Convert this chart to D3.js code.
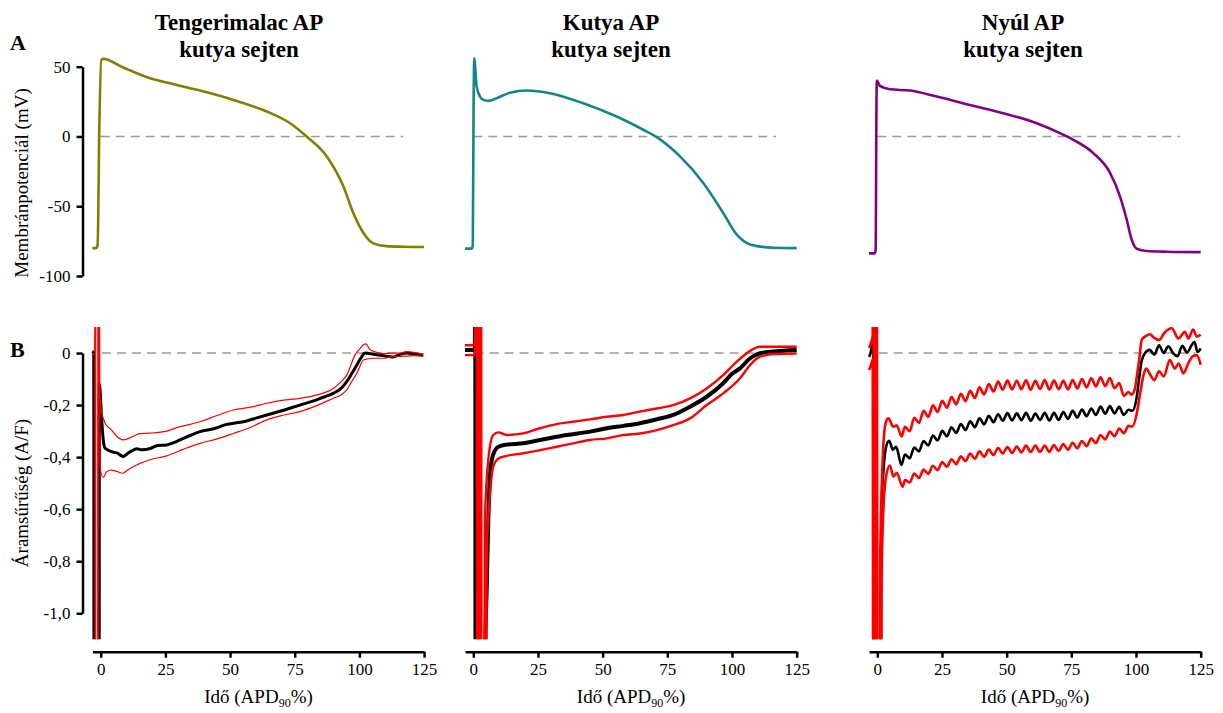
<!DOCTYPE html>
<html>
<head>
<meta charset="utf-8">
<script src="https://cdn.jsdelivr.net/npm/d3@7"></script>
<style>
  body { margin: 0; background: #fff; }
  svg text { font-family: "Liberation Serif", "Times New Roman", Times, "Tinos", "DejaVu Serif", "Noto Serif", serif; }
</style>
</head>
<body>
<div id="chart"></div>
<script>
// ---- data ----
var titles1 = ["Tengerimalac AP", "Kutya AP", "Nyúl AP"];
var titles2 = ["kutya sejten", "kutya sejten", "kutya sejten"];
var xTicks = [0, 25, 50, 75, 100, 125];
var yTicksA = [50, 0, -50, -100];
var yTicksB = [0, -0.2, -0.4, -0.6, -0.8, -1.0];

// A row: action potentials [time (APD90 %), mV]
var apGuineaPig = [[-3.2,-80],[-1.8,-80],[-1.2,-78],[-0.5,10],[0.2,55],[1.2,55.6],[3.6,54.3],[7,51],[12.6,46.4],[18,42.5],[25.5,38.6],[38.4,32.9],[51.3,26.2],[64.2,17.9],[73.2,9.5],[79.6,0],[87.4,-14.3],[93.8,-35.7],[97.6,-54.7],[101.5,-69],[105.4,-76.6],[110.5,-78.6],[117,-79],[125,-79.2]];
var apDog = [[-3.2,-80.4],[-0.6,-80.4],[-0.2,-78],[0.1,20],[0.4,56],[0.8,48],[1.3,35.7],[2.6,28.6],[4,26.2],[5.8,25.5],[9,27.4],[14.2,31.4],[20.6,32.9],[29.6,31],[42.5,23.8],[55.4,14.3],[65.7,4.8],[70.9,-0.5],[79.9,-14.3],[88.9,-33.3],[96.6,-54.8],[101.8,-70.2],[107,-77.4],[116,-79.8],[125,-80]];
var apRabbit = [[-3.2,-83.8],[-0.9,-83.8],[-0.6,-80],[-0.4,0],[-0.2,40],[1,36.2],[4.9,33.8],[12.6,32.9],[23,28.6],[35.8,22.6],[48.7,16.7],[61.6,9.5],[70.6,2.4],[75.8,-2.4],[83.5,-11.9],[90,-26.2],[93.8,-42.9],[96.4,-59.5],[98.3,-73.8],[100.3,-80.5],[104.1,-82.1],[112,-82.6],[125,-82.9]];

// B row: current density mean, mean+SEM, mean-SEM [time, A/F]
var gpMean = [[-3.2,0],[-2.7,0.005],[-2.5,-3],[-0.7,-3],[-0.5,-0.12],[0.4,-0.26],[1.0,-0.335],[1.7,-0.366],[4.2,-0.379],[6.5,-0.385],[8.7,-0.398],[10.5,-0.385],[12.6,-0.373],[14,-0.368],[16,-0.372],[19.1,-0.367],[22,-0.355],[25.5,-0.353],[28,-0.345],[31.9,-0.328],[35,-0.315],[38.4,-0.302],[44,-0.29],[48,-0.276],[51.3,-0.27],[56,-0.262],[60,-0.25],[64.2,-0.238],[70,-0.222],[77,-0.2],[82,-0.185],[86,-0.17],[89.9,-0.155],[93,-0.135],[95.1,-0.11],[97,-0.08],[99,-0.046],[100.5,-0.02],[102.2,0],[105.4,-0.005],[109.2,-0.01],[113.1,-0.015],[115.7,-0.005],[118.3,0],[121,-0.003],[124.7,-0.008]];
var gpUpper = [[-3.2,0.005],[-2.4,0.01],[-1.95,0.5],[-1.9,-3],[-1.0,-3],[-0.95,0.5],[-0.6,0.5],[-0.45,-0.12],[0.4,-0.232],[1.0,-0.25],[1.7,-0.27],[4.2,-0.296],[6.2,-0.32],[8.7,-0.334],[12.6,-0.32],[15,-0.31],[19.1,-0.308],[25.5,-0.3],[30,-0.285],[38.4,-0.264],[45,-0.24],[51.3,-0.219],[58,-0.208],[64.2,-0.193],[70,-0.182],[77,-0.174],[84,-0.16],[89.9,-0.136],[93,-0.11],[95.1,-0.085],[98.3,-0.008],[100.5,0.02],[101.5,0.031],[102.5,0.035],[104.1,0.013],[106,0.005],[109.2,-0.002],[113.1,0],[115.7,0],[118.3,0.005],[121,0.003],[124.7,-0.006]];
var gpLower = [[-3.2,-0.005],[-2.2,-0.005],[-2.1,-3],[-1.2,-3],[-1.1,0.5],[-0.5,0.5],[-0.3,-0.437],[1.0,-0.478],[2.3,-0.456],[4.2,-0.45],[6.2,-0.455],[8.7,-0.462],[10,-0.452],[12.6,-0.437],[15,-0.425],[19.1,-0.41],[25.5,-0.395],[31.9,-0.37],[38.4,-0.347],[45,-0.33],[51.3,-0.309],[58,-0.285],[64.2,-0.257],[70,-0.24],[77,-0.225],[84,-0.2],[89.9,-0.174],[93,-0.16],[95.1,-0.142],[97,-0.11],[99,-0.078],[100.5,-0.045],[101.5,-0.027],[105.4,-0.02],[109.2,-0.02],[113.1,-0.013],[118.3,-0.012],[121,-0.01],[124.7,-0.013]];

var dogMean = [[-3.2,0.012],[0.6,0.012],[0.75,0.5],[0.9,-3],[1.2,0.5],[1.4,-3],[4.1,-3],[4.5,-1.2],[5.2,-0.9],[5.8,-0.64],[6.5,-0.46],[7.7,-0.39],[9.7,-0.36],[12.9,-0.352],[19.3,-0.347],[25.8,-0.334],[32.2,-0.322],[36.1,-0.315],[45.1,-0.302],[51.6,-0.289],[58,-0.28],[64.4,-0.27],[70.9,-0.255],[77.3,-0.238],[83.8,-0.206],[90.2,-0.168],[96.6,-0.116],[100,-0.08],[103.1,-0.059],[107,-0.02],[110.8,-0.001],[116,0.006],[125,0.012]];
var dogUpper = [[-3.2,0.03],[0.6,0.03],[1.3,0.5],[1.6,-3],[2.2,0.5],[2.6,-3],[3.9,-3],[4.5,-0.64],[5.8,-0.41],[7.7,-0.315],[9.7,-0.305],[12.9,-0.315],[19.3,-0.309],[25.8,-0.289],[32.2,-0.273],[38.6,-0.264],[45.1,-0.255],[51.6,-0.245],[58,-0.238],[64.4,-0.225],[70.9,-0.213],[77.3,-0.2],[83.8,-0.174],[90.2,-0.136],[96.6,-0.085],[100.5,-0.046],[105.7,-0.001],[110.8,0.024],[116,0.024],[125,0.024]];
var dogLower = [[-3.2,-0.008],[0.6,-0.008],[2.0,0.5],[2.4,-3],[3.0,0.5],[3.3,-3],[4.4,-3],[5.2,-0.77],[6.5,-0.54],[7.7,-0.437],[9.7,-0.405],[12.9,-0.395],[19.3,-0.385],[25.8,-0.373],[32.2,-0.36],[38.6,-0.347],[45.1,-0.334],[51.6,-0.328],[58,-0.315],[64.4,-0.309],[70.9,-0.296],[77.3,-0.277],[83.8,-0.251],[90.2,-0.2],[96.6,-0.155],[103.1,-0.097],[107,-0.046],[110.8,-0.014],[116,-0.004],[125,-0.002]];

var rbMean = [[-3.2,-0.015],[-2.6,0],[-2.0,0.03],[-1.6,0.037],[-1.2,-3],[0.9,-3],[1.6,-0.6],[2.4,-0.45],[3.4,-0.36],[4.6,-0.337],[6.0,-0.372],[7.3,-0.36],[9.3,-0.43],
  [10.7,-0.39],[12.5,-0.404],[14.3,-0.363],[16.1,-0.378],[17.9,-0.338],[19.7,-0.355],[21.5,-0.317],[23.3,-0.336],[25.1,-0.299],[26.9,-0.32],[28.7,-0.285],[30.5,-0.307],[32.3,-0.273],[34.1,-0.296],[35.9,-0.262],[37.7,-0.285],[39.5,-0.251],[41.3,-0.274],[43.1,-0.241],[44.9,-0.266],[46.7,-0.235],[48.5,-0.26],[50.3,-0.231],[52.1,-0.259],[53.9,-0.232],[55.7,-0.258],[57.5,-0.23],[59.3,-0.26],[61.1,-0.233],[62.9,-0.257],[64.7,-0.23],[66.5,-0.259],[68.3,-0.23],[70.1,-0.257],[71.9,-0.227],[73.7,-0.253],[75.5,-0.222],[77.3,-0.248],[79.1,-0.217],[80.9,-0.243],[82.7,-0.213],[84.5,-0.238],[86.3,-0.206],[88.1,-0.233],[89.9,-0.204],[91.7,-0.232],[93.5,-0.207],[95.3,-0.238],[97.1,-0.218],
  [98.6,-0.222],[100.3,-0.168],[101.3,-0.09],[102.2,-0.03],[103.5,0],[105.3,0.012],[107.1,-0.006],[108.9,0.03],[110.7,0],[112.5,0.026],[114.3,0],[116.1,-0.012],[117.9,0.028],[119.7,0.002],[121.5,0.03],[122.6,0.043],[123.8,0.004],[125,0.018]];
var rbUpper = [[-3.2,0.02],[-2.4,0.04],[-1.8,0.065],[-1.5,0.5],[-1.1,-3],[-0.7,0.5],[-0.3,-3],[0.4,-3],[1.0,-0.9],[1.6,-0.55],[2.3,-0.36],[3.2,-0.27],[4.3,-0.251],[6.2,-0.283],[7.5,-0.278],[9.4,-0.321],
  [10.7,-0.283],[12.5,-0.3],[14.3,-0.249],[16.1,-0.269],[17.9,-0.222],[19.7,-0.245],[21.5,-0.201],[23.3,-0.226],[25.1,-0.184],[26.9,-0.21],[28.7,-0.169],[30.5,-0.197],[32.3,-0.157],[34.1,-0.185],[35.9,-0.145],[37.7,-0.173],[39.5,-0.132],[41.3,-0.159],[43.1,-0.119],[44.9,-0.148],[46.7,-0.11],[48.5,-0.141],[50.3,-0.106],[52.1,-0.14],[53.9,-0.107],[55.7,-0.139],[57.5,-0.105],[59.3,-0.141],[61.1,-0.107],[62.9,-0.138],[64.7,-0.104],[66.5,-0.14],[68.3,-0.106],[70.1,-0.139],[71.9,-0.107],[73.7,-0.14],[75.5,-0.104],[77.3,-0.136],[79.1,-0.1],[80.9,-0.132],[82.7,-0.097],[84.5,-0.128],[86.3,-0.093],[88.1,-0.127],[89.9,-0.096],[91.7,-0.135],[93.5,-0.115],[95.3,-0.165],[97.1,-0.15],
  [98.3,-0.16],[99.5,-0.14],[100.3,-0.091],[101.3,-0.02],[102.2,0.05],[103.5,0.063],[105.3,0.072],[107.1,0.058],[108.9,0.05],[111,0.078],[113.8,0.095],[116.4,0.056],[118.9,0.082],[120.2,0.056],[122.1,0.09],[123.5,0.063],[125,0.07]];
var rbLower = [[-3.2,-0.065],[-2.4,-0.045],[-1.8,-0.025],[-1.4,-3],[-1.0,0.5],[-0.6,-3],[-0.2,0.5],[0.2,-3],[1.2,-3],[1.6,-0.9],[2.4,-0.59],[3.6,-0.462],[4.9,-0.432],[6.2,-0.475],[7.5,-0.46],[9.8,-0.514],
  [10.7,-0.488],[12.5,-0.497],[14.3,-0.463],[16.1,-0.48],[17.9,-0.448],[19.7,-0.464],[21.5,-0.433],[23.3,-0.45],[25.1,-0.419],[26.9,-0.437],[28.7,-0.408],[30.5,-0.427],[32.3,-0.397],[34.1,-0.415],[35.9,-0.386],[37.7,-0.406],[39.5,-0.378],[41.3,-0.399],[43.1,-0.371],[44.9,-0.392],[46.7,-0.365],[48.5,-0.386],[50.3,-0.361],[52.1,-0.384],[53.9,-0.359],[55.7,-0.382],[57.5,-0.356],[59.3,-0.38],[61.1,-0.356],[62.9,-0.38],[64.7,-0.356],[66.5,-0.38],[68.3,-0.354],[70.1,-0.376],[71.9,-0.35],[73.7,-0.372],[75.5,-0.345],[77.3,-0.366],[79.1,-0.338],[80.9,-0.358],[82.7,-0.328],[84.5,-0.346],[86.3,-0.315],[88.1,-0.332],[89.9,-0.302],[91.7,-0.32],[93.5,-0.29],[95.3,-0.308],[97.1,-0.28],
  [98.5,-0.283],[100.3,-0.232],[101.6,-0.155],[102.9,-0.085],[104,-0.06],[105.3,-0.08],[107.1,-0.104],[108.9,-0.07],[110.7,-0.09],[113.1,-0.027],[115,-0.06],[116.5,-0.04],[118.3,-0.078],[120.2,-0.04],[122.1,-0.011],[123.5,-0.008],[125,-0.045]];

var apData = [apGuineaPig, apDog, apRabbit];
var apColors = ["#808000", "#168585", "#800080"];
var curData = [[gpMean, gpUpper, gpLower], [dogMean, dogUpper, dogLower], [rbMean, rbUpper, rbLower]];

// ---- layout ----
var svgWidth = 1223;
var svgHeight = 713;
var serif = "'Liberation Serif', 'Times New Roman', Times, Tinos, 'DejaVu Serif', 'Noto Serif', serif";
var zeroX = [100.7, 473.3, 877.3];   // pixel of t = 0 in each column
var pxPerUnit = 2.587;
var axisX = 82.5;
var redWidth = [1.2, 2.4, 2.6];
var blackWidth = [3, 4, 2.6];

var svg = d3.select("#chart")
    .append("svg")
    .attr("width", svgWidth)
    .attr("height", svgHeight)
    .attr("font-family", serif);

var yA = d3.scaleLinear().domain([50, -100]).range([66.7, 276]);
var yB = d3.scaleLinear().domain([0.1, -1.1]).range([327, 639.3]);
var yBaxis = yB.copy().domain([0, -1]).range([yB(0), yB(-1)]);

var huLocale = d3.formatLocale({decimal: ",", thousands: " ", grouping: [3], currency: ["", ""], minus: "-"});
var commaFmt = huLocale.format(".1f");
var intFmt = huLocale.format("d");

svg.append("defs").append("clipPath")
    .attr("id", "clipB")
    .append("rect")
    .attr("x", 0).attr("y", yB(0.1))
    .attr("width", svgWidth).attr("height", yB(-1.1) - yB(0.1));

function styleAxis(g) {
    g.attr("font-family", serif).attr("font-size", 17);
    g.select(".domain").attr("stroke", "#000").attr("stroke-width", 2.5);
    g.selectAll(".tick line").attr("stroke", "#000").attr("stroke-width", 2.5);
    g.selectAll(".tick text")
        .attr("fill", "#000")
        .style("font-family", serif)
        .style("font-size", "17px");
}

for (var i = 0; i < 3; i++) {
    var x = d3.scaleLinear()
        .domain([-3.2, 125])
        .range([zeroX[i] - 3.2 * pxPerUnit, zeroX[i] + 125 * pxPerUnit]);

    // titles
    var cx = [239, 611, 1023][i];
    svg.append("text").attr("x", cx).attr("y", 30)
        .attr("text-anchor", "middle").style("font-weight", "bold").style("font-size", "23px")
        .text(titles1[i]);
    svg.append("text").attr("x", cx).attr("y", 57)
        .attr("text-anchor", "middle").style("font-weight", "bold").style("font-size", "23px")
        .text(titles2[i]);

    // zero reference lines
    svg.append("line")
        .attr("x1", x(0)).attr("x2", x(117))
        .attr("y1", yA(0)).attr("y2", yA(0))
        .attr("stroke", "#999").attr("stroke-width", 1.5).attr("stroke-dasharray", "9,6");
    svg.append("line")
        .attr("x1", x(0.5)).attr("x2", x(123))
        .attr("y1", yB(0)).attr("y2", yB(0))
        .attr("stroke", "#999").attr("stroke-width", 1.5).attr("stroke-dasharray", "9,6");

    // action potential
    var lineA = d3.line()
        .x(d => x(d[0]))
        .y(d => yA(d[1]))
        .curve(d3.curveMonotoneX);
    svg.append("path")
        .datum(apData[i])
        .attr("d", lineA)
        .attr("fill", "none")
        .attr("stroke", apColors[i])
        .attr("stroke-width", 2.6);

    // current traces: mean first, SEM lines on top
    var lineB = d3.line()
        .x(d => x(d[0]))
        .y(d => yB(d[1]))
        .curve(d3.curveMonotoneX);
    var gB = svg.append("g").attr("clip-path", "url(#clipB)");
    curData[i].forEach(function(series, k) {
        gB.append("path")
            .datum(series)
            .attr("d", lineB)
            .attr("fill", "none")
            .attr("stroke", k > 0 ? "#ff0000" : "#000")
            .attr("stroke-width", k > 0 ? redWidth[i] : blackWidth[i])
            .attr("stroke-linejoin", "round");
    });

    // x axis
    var gx = svg.append("g")
        .attr("transform", "translate(0,651.7)")
        .call(d3.axisBottom(x).tickValues(xTicks).tickSize(6).tickSizeOuter(0).tickPadding(5).tickFormat(intFmt));
    styleAxis(gx);

    var xt = svg.append("text")
        .attr("x", x(61)).attr("y", 703)
        .attr("text-anchor", "middle")
        .style("font-size", "19px");
    xt.append("tspan").text("Idő (APD");
    xt.append("tspan").attr("dy", 4).style("font-size", "12px").text("90");
    xt.append("tspan").attr("dy", -4).text("%)");
}

// y axes (first column only)
var gyA = svg.append("g")
    .attr("transform", `translate(${axisX},0)`)
    .call(d3.axisLeft(yA).tickValues(yTicksA).tickSize(6).tickSizeOuter(0).tickPadding(6).tickFormat(intFmt));
styleAxis(gyA);

var gyB = svg.append("g")
    .attr("transform", `translate(${axisX},0)`)
    .call(d3.axisLeft(yBaxis).tickValues(yTicksB).tickSize(6).tickSizeOuter(0).tickPadding(6)
        .tickFormat(d => d === 0 ? "0" : commaFmt(d)));
styleAxis(gyB);

svg.append("text")
    .attr("transform", "translate(28,183) rotate(-90)")
    .attr("text-anchor", "middle")
    .style("font-size", "19px")
    .text("Membránpotenciál (mV)");

svg.append("text")
    .attr("transform", "translate(28,493) rotate(-90)")
    .attr("text-anchor", "middle")
    .style("font-size", "19px")
    .text("Áramsűrűség (A/F)");

// panel letters
svg.append("text").attr("x", 10).attr("y", 50)
    .style("font-weight", "bold").style("font-size", "22px").text("A");
svg.append("text").attr("x", 10).attr("y", 357)
    .style("font-weight", "bold").style("font-size", "22px").text("B");
</script>
</body>
</html>
